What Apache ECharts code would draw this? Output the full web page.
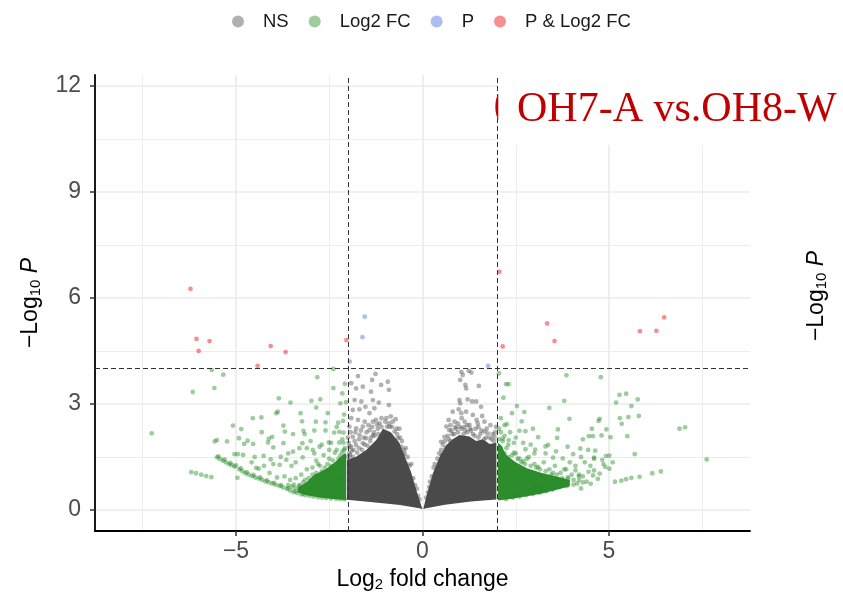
<!DOCTYPE html>
<html><head><meta charset="utf-8">
<script src="https://cdn.jsdelivr.net/npm/echarts@6/dist/echarts.min.js"></script>
<style>html,body{margin:0;padding:0;background:#fff}#c{width:843px;height:600px}</style>
</head><body><div id="c"></div>
<script>
// ---- axis / grid values ----
const xTicks = [-5, 0, 5];
const yTicks = [0, 3, 6, 9, 12];
const xMinorGrid = [-7.5, -2.5, 2.5, 7.5];
const yMinorGrid = [1.5, 4.5, 7.5, 10.5];
const fcCutoffs = [-2, 2];
const pCutoffs = [4];
const legendNames = ['NS', 'Log2 FC', 'P', 'P & Log2 FC'];
const plotTitle = 'OH7-A vs.OH8-W';

// ---- data: [log2FC, -log10 P] ----
const bothPoints = [[-6.22,6.26],[-6.06,4.84],[-5.71,4.78],[-6.00,4.50],[-4.07,4.64],[-3.67,4.47],[-4.42,4.08],[-2.04,4.81],
  [2.06,6.74],[2.15,4.63],[3.34,5.28],[3.54,4.78],[5.83,5.06],[6.27,5.07],[6.48,5.45]];
const pPoints = [[-1.55,5.47],[-1.61,4.89],[-1.95,4.20],[1.76,4.08]];
const fcPointsLeft = [[-5.65,3.96],[-5.34,3.83],[-2.82,3.76],[-2.39,3.99],[-2.08,3.57],[-2.39,3.45],[-5.58,3.45],
  [-7.26,2.17],[-6.16,3.34],[-2.20,3.02],[-2.74,3.13],[-2.98,3.09],[-3.54,3.04],[-3.85,3.16],[-3.92,2.74],[-3.88,2.78],
  [-3.27,2.74],[-2.85,2.90],[-2.54,2.74],[-2.26,2.47],[-2.60,2.48],[-2.86,2.50],[-3.23,2.51],[-3.73,2.39],[-4.32,2.62],
  [-4.55,2.60],[-5.08,2.39],[-4.86,2.29],[-5.51,1.98],[-5.57,1.94],[-5.24,1.94],[-4.92,2.03],[-4.69,1.96],[-4.31,2.20],
  [-4.12,2.02],[-4.03,2.07],[-3.69,2.22],[-3.47,2.15],[-3.19,2.24],[-3.16,2.15],[-2.90,2.25],[-2.60,2.25],[-2.37,2.19],
  [-2.23,2.21],[-2.12,2.19],[-2.13,2.52],[-4.78,1.87],[-4.54,1.87],[-4.14,1.91],[-4.00,1.77],[-3.73,1.89],[-3.47,1.65],
  [-3.22,1.89],[-2.94,1.70],[-2.76,1.79],[-2.51,1.91],[-2.23,1.91],[-5.04,1.58],[-4.95,1.58],[-4.81,1.56],[-4.58,1.35],
  [-4.46,1.19],[-4.39,1.17],[-4.26,1.53],[-4.07,1.43],[-3.83,1.28],[-3.65,1.42],[-3.51,1.25],[-3.21,1.49],[-2.85,1.40],
  [-4.96,0.91],[-6.20,1.07],[-6.07,1.04],[-5.93,1.00],[-5.80,0.96],[-5.66,0.93],
  [-5.51,1.49],[-5.35,1.40],[-5.19,1.30],[-5.04,1.23],[-4.91,1.15],[-4.75,1.04],[-4.57,0.96],[-4.39,0.89],[-4.21,0.81],
  [-4.03,0.75],[-3.83,0.68],[-3.64,0.60],[-3.46,0.51],[-3.25,0.44],[-3.03,0.40],[-2.80,0.36],[-2.58,0.34],[-2.31,0.32],[-2.09,0.30],
  [-5.43,1.44],[-5.27,1.35],[-5.11,1.27],[-4.83,1.10],[-4.66,1.00],[-4.48,0.92],[-4.30,0.85],[-4.12,0.78],[-3.93,0.71],
  [-3.74,0.64],[-3.55,0.55],[-3.36,0.48],[-3.14,0.42],[-2.92,0.38],[-2.69,0.35],[-2.45,0.33],[-2.20,0.31],
  [-5.47,1.52],[-5.31,1.43],[-5.15,1.33],[-5.00,1.26],[-4.87,1.18],[-4.71,1.07],[-4.53,0.99],[-4.35,0.92],[-4.17,0.84],
  [-3.98,0.77],[-3.79,0.70],[-3.60,0.62],[-3.41,0.53],[-3.20,0.46],
  [-2.10,1.70],[-2.20,1.55],[-2.35,1.62],[-2.50,1.45],[-2.65,1.55],[-2.80,1.30],[-2.95,1.20],[-3.10,1.15],[-3.25,1.00],
  [-3.40,0.90],[-3.55,0.85],[-3.70,0.95],[-3.90,0.92],[-4.10,1.05],[-2.20,0.90],[-2.60,0.75],[-3.00,0.60],[-3.30,0.68],
  [-2.45,1.90],[-2.15,2.00],[-2.30,2.35],[-2.70,1.85],[-3.00,1.95],[-3.30,1.75],[-3.60,1.60],[-3.80,1.50],[-4.00,1.30],
  [-4.25,1.25],[-4.50,1.50],[-2.10,2.70],[-2.05,3.05],[-2.15,3.30],
  [-2.08,1.75],[-2.12,1.90],[-2.15,1.65],[-2.25,1.45],[-2.30,1.70],[-2.40,1.40],[-2.45,1.25],[-2.55,1.30],[-2.62,1.20],
  [-2.70,1.10],[-2.75,1.25],[-2.85,1.05],[-2.95,1.00],[-3.05,0.90],[-3.15,0.85],[-3.20,0.78],[-3.30,0.70],[-3.40,0.62],
  [-3.45,0.72],[-3.50,0.66],[-3.60,0.70],[-2.50,1.70],[-2.90,1.60],[-3.40,1.35],[-3.10,1.75]];
const fcPointsRight = [[2.05,3.87],[2.24,3.56],[2.31,3.56],[3.86,3.81],[4.78,3.76],[2.17,3.18],[3.80,3.09],[5.28,3.26],
  [5.46,3.29],[5.77,3.13],[5.19,3.04],[5.60,2.94],[2.53,2.94],[2.73,2.77],[3.40,2.89],[2.40,2.74],[3.94,2.58],[2.66,2.51],
  [4.75,2.58],[4.72,2.52],[5.29,2.60],[5.52,2.63],[5.80,2.66],[5.34,2.44],[2.26,2.43],[2.96,2.30],[3.63,2.28],[2.60,2.24],
  [2.76,2.23],[4.54,2.30],[4.93,2.28],[6.89,2.30],[7.04,2.34],[3.10,2.06],[3.61,2.04],[4.30,2.00],[4.46,2.09],[4.57,2.09],
  [4.80,2.11],[5.04,2.06],[5.49,2.09],[2.15,2.02],[2.31,1.98],[3.37,1.84],[3.89,1.79],[4.23,1.74],[2.76,1.72],[3.02,1.71],
  [3.30,1.60],[3.58,1.66],[3.76,1.46],[4.04,1.58],[4.44,1.70],[4.63,1.68],[4.82,1.42],[4.92,1.53],[5.01,1.54],[5.69,1.58],
  [7.62,1.43],[5.01,1.17],[5.16,0.80],[5.33,0.83],[5.46,0.87],[5.60,0.91],[5.82,0.94],[6.16,1.04],[6.39,1.09],[4.25,0.61],
  [4.51,0.74],[4.75,1.03],[4.57,0.98],[4.19,0.96],[4.05,0.72],[3.87,0.68],[3.67,0.65],[3.49,0.58],[3.32,0.53],[3.14,0.49],
  [2.96,0.45],[2.78,0.42],[2.60,0.38],[2.42,0.35],[2.24,0.31],
  [3.00,0.70],[3.30,0.78],[3.60,0.86],[3.90,0.93],[4.20,1.00],[4.45,1.08],[3.20,0.95],[3.50,1.05],[3.80,1.15],[4.10,1.25],
  [4.35,1.35],[4.60,1.45],[4.90,1.22],[5.10,1.35],
  [2.10,1.75],[2.20,1.60],[2.30,1.50],[2.45,1.62],[2.60,1.45],[2.70,1.38],[2.85,1.50],[3.00,1.30],[3.10,1.22],[3.25,1.35],
  [3.40,1.15],[3.55,1.25],[3.70,1.05],[3.85,1.15],[4.00,1.00],[4.10,1.12],[4.20,0.85],[4.30,0.95],[4.40,0.80],[4.50,1.25],
  [4.60,1.12],[4.70,0.88],[4.85,1.30],[3.20,0.60],[3.45,0.72],[2.90,0.55],[2.60,0.48],[2.35,0.45],[3.00,1.60],[3.30,1.80],
  [2.45,1.90],[2.20,2.10],[2.05,2.30],[2.10,2.60],[2.35,2.20],[2.90,1.85],[3.50,1.48],[3.95,1.35],[4.25,1.50],[4.60,1.48],
  [2.05,2.00],[2.10,2.20],[2.15,1.95],[2.25,1.75],[2.30,1.85],[2.40,1.55],[2.50,1.60],[2.55,1.45],[2.65,1.35],[2.75,1.30],
  [2.80,1.45],[2.90,1.25],[3.05,1.20],[3.15,1.15],[3.30,1.10],[3.45,1.00],[3.60,1.00],[3.75,0.90],[3.90,0.88],[4.05,0.85],
  [4.15,0.75],[4.30,0.78],[2.20,2.40],[2.50,2.05],[2.70,1.90]];
const nsPointsLeft = [[-1.73,3.79],[-1.26,3.85],[-1.35,3.68],[-1.11,3.54],[-0.93,3.63],[-0.90,3.40],[-1.91,3.59],[-1.78,3.44],
  [-1.60,3.49],[-1.38,3.35],[-1.82,3.11],[-1.64,3.07],[-1.33,3.11],[-1.17,3.04],[-0.90,2.97],[-1.87,2.83],[-1.69,2.85],
  [-1.53,2.92],[-1.42,2.74],[-1.29,2.88],[-1.91,2.60],[-1.73,2.55],[-1.55,2.50],[-1.33,2.50],[-1.15,2.45],[-0.72,2.57],
  [-1.96,2.36],[-1.78,2.31],[-1.60,2.36],[-1.42,2.26],[-1.87,2.07],[-1.69,2.12],[-1.51,2.03],[-1.33,2.12],[-0.88,2.36],
  [-0.75,2.22],[-0.66,2.03],[-1.96,1.79],[-1.78,1.84],[-1.60,1.89],[-0.57,1.79],[-0.48,1.60],[-1.96,1.60],[-1.87,1.51],
  [-1.95,1.55],[-1.85,1.70],[-1.70,1.75],[-1.55,1.85],[-1.40,1.95],[-1.30,2.20],[-1.20,2.30],[-1.00,2.50],[-0.90,2.45],
  [-0.70,2.30],[-0.60,2.05],[-0.50,1.70],[-0.40,1.50],[-0.35,1.25],[-0.25,0.90],[-0.15,0.60],[-1.10,2.60],[-1.25,2.55],[-0.85,2.65],
  [-2.00,1.50],[-1.98,1.90],[-1.93,2.20],[-1.90,1.68],[-1.82,1.95],[-1.80,2.20],[-1.75,1.62],[-1.70,2.00],[-1.65,2.25],
  [-1.62,1.70],[-1.58,2.05],[-1.50,2.20],[-1.47,1.82],[-1.45,2.40],[-1.38,2.05],[-1.35,2.35],[-1.28,2.10],[-1.22,2.42],
  [-1.18,2.15],[-1.10,2.35],[-1.02,2.20],[-0.97,2.60],[-0.95,2.35],[-0.82,2.35],[-0.80,2.50],[-0.68,2.15],[-0.62,2.30],
  [-0.55,1.95],[-0.52,1.55],[-0.45,1.75],[-0.42,1.30],[-0.38,1.10],[-0.30,1.30],[-0.28,0.75],[-0.20,0.70],[-0.12,0.40],
  [-0.08,0.30],[-2.00,2.05],[-1.92,1.80]];
const nsPointsRight = [[1.04,3.91],[1.08,3.82],[1.24,3.94],[1.31,3.89],[1.01,3.68],[1.15,3.54],[1.17,3.44],[1.51,3.51],
  [0.99,3.11],[1.01,3.02],[1.21,3.13],[1.33,3.07],[1.44,3.07],[1.57,2.92],[0.97,2.85],[1.04,2.74],[1.17,2.78],[1.35,2.69],
  [1.60,2.66],[0.81,2.78],[0.86,2.50],[0.95,2.45],[1.13,2.50],[1.26,2.41],[1.48,2.45],[1.66,2.50],[0.64,2.36],[0.72,2.26],
  [1.66,2.22],[1.75,2.17],[0.59,2.07],[0.50,1.93],[1.93,2.07],
  [0.30,1.20],[0.40,1.45],[0.50,1.70],[0.55,1.85],[0.70,2.00],[0.80,2.15],[0.90,2.30],[1.05,2.30],[1.15,2.25],[1.30,2.25],
  [1.40,2.10],[1.55,2.15],[1.70,2.05],[1.85,2.00],[1.95,2.20],[1.20,2.40],[0.75,2.40],[1.50,2.35],[0.20,0.80],[0.15,0.50],
  [0.10,0.35],[0.18,0.65],[0.25,0.95],[0.33,1.30],[0.38,1.15],[0.45,1.60],[0.52,1.55],[0.60,1.95],[0.62,1.75],[0.68,2.10],
  [0.75,1.95],[0.78,2.25],[0.85,2.15],[0.88,2.35],[0.95,2.20],[1.00,2.35],[1.10,2.15],[1.12,2.35],[1.20,2.20],[1.28,2.30],
  [1.35,2.15],[1.42,2.30],[1.50,2.05],[1.58,2.25],[1.65,2.00],[1.72,2.30],[1.80,2.05],[1.88,2.15],[1.92,1.95],[1.97,2.35],
  [1.45,2.55],[1.05,2.60],[0.70,2.55],[1.82,2.40]];
// outlines of the fully saturated (overplotted) cores of the point clouds
const nsCoreLeft = [[-2.03,0.29],[-2.03,1.42],[-1.78,1.51],[-1.51,1.70],[-1.24,1.98],[-1.06,2.30],[-0.85,2.20],[-0.62,1.90],
  [-0.44,1.42],[-0.30,1.05],[-0.17,0.57],[-0.04,0.15],[0,0.02],[-0.05,0.04],[-0.6,0.14],[-1.33,0.22]];
const nsCoreRight = [[0.02,0.03],[0.12,0.45],[0.28,1.04],[0.46,1.51],[0.64,1.84],[0.81,2.00],[0.99,2.12],[1.26,2.08],
  [1.44,1.95],[1.62,2.00],[1.80,1.87],[1.98,1.90],[1.98,0.30],[1.30,0.24],[0.60,0.15],[0.10,0.05]];
const fcCoreLeft = [[-2.05,0.28],[-2.4,0.31],[-2.8,0.36],[-3.1,0.42],[-3.35,0.50],[-3.35,0.62],[-3.1,0.80],[-2.9,1.0],
  [-2.6,1.15],[-2.35,1.35],[-2.1,1.6],[-2.05,1.6]];
const fcCoreRight = [[2.02,0.27],[2.4,0.32],[2.8,0.39],[3.2,0.47],[3.6,0.57],[3.95,0.67],[3.95,0.85],[3.6,0.95],[3.2,1.05],
  [2.8,1.18],[2.5,1.35],[2.25,1.55],[2.1,1.85],[2.02,1.9]];

// ---- build chart ----
const FONT = '"Liberation Sans", Arial, Helvetica, sans-serif';
const COL = { ns: 'rgba(77,77,77,0.55)', fc: 'rgba(34,139,34,0.55)', p: 'rgba(65,105,225,0.55)', both: 'rgba(238,0,0,0.55)' };
const XMIN = -8.78, XMAX = 8.78, YMIN = -0.594, YMAX = 12.31;
const minus = v => (v < 0 ? '\u2212' + (-v) : String(v));
const richTitle = {
  n: { fontSize: 23, color: '#000', fontFamily: FONT },
  sub: { fontSize: 15, color: '#000', fontFamily: FONT, padding: [9, 0, 0, 0] },
  it: { fontSize: 23, color: '#000', fontFamily: FONT, fontStyle: 'italic' }
};
const gridLine = (key, v, major) => ({ [key]: v, lineStyle: { color: '#ebebeb', width: major ? 1.7 : 0.9, type: 'solid' } });
const gridMarks = [].concat(
  xTicks.map(v => gridLine('xAxis', v, true)), xMinorGrid.map(v => gridLine('xAxis', v, false)),
  yTicks.map(v => gridLine('yAxis', v, true)), yMinorGrid.map(v => gridLine('yAxis', v, false)));
const cutMarks = [].concat(fcCutoffs.map(v => ({ xAxis: v })), pCutoffs.map(v => ({ yAxis: v })));
const cores = [
  { pts: nsCoreLeft, fill: '#4a4a4a' }, { pts: nsCoreRight, fill: '#4a4a4a' },
  { pts: fcCoreLeft, fill: '#2d8d2d' }, { pts: fcCoreRight, fill: '#2d8d2d' }];

const chart = echarts.init(document.getElementById('c'), null, { renderer: 'canvas' });
chart.setOption({
  animation: false,
  backgroundColor: '#fff',
  grid: { left: 95, right: 93, top: 75, bottom: 69, containLabel: false, outerBoundsMode: 'none' },
  legend: {
    data: legendNames, top: 7, left: 227, icon: 'circle', itemWidth: 12, itemHeight: 12, itemGap: 20,
    textStyle: { fontSize: 18.5, color: '#1a1a1a', fontFamily: FONT, padding: [0, 0, 0, 14] }, selectedMode: false
  },
  xAxis: {
    type: 'value', min: XMIN, max: XMAX,
    axisLine: { show: true, onZero: false, lineStyle: { color: '#000', width: 1.8 } },
    axisTick: { show: true, customValues: xTicks, length: 5, lineStyle: { color: '#333', width: 1.5 } },
    axisLabel: { customValues: xTicks, formatter: minus, fontSize: 23, color: '#4d4d4d', margin: 9, fontFamily: FONT },
    splitLine: { show: false }, minorSplitLine: { show: false },
    name: '{n|Log}{sub|2}{n| fold change}', nameLocation: 'middle', nameGap: 37,
    nameTextStyle: { rich: richTitle }
  },
  yAxis: {
    type: 'value', min: YMIN, max: YMAX,
    axisLine: { show: true, onZero: false, lineStyle: { color: '#000', width: 1.8 } },
    axisTick: { show: true, customValues: yTicks, length: 5, lineStyle: { color: '#333', width: 1.5 } },
    axisLabel: { customValues: yTicks, formatter: minus, fontSize: 23, color: '#4d4d4d', margin: 14, fontFamily: FONT },
    splitLine: { show: false },
    name: '{n|\u2212Log}{sub|10}{n| }{it|P}', nameLocation: 'middle', nameRotate: 90, nameGap: 52,
    nameTextStyle: { rich: richTitle }
  },
  graphic: [
    { type: 'text', z: 99, x: 817, y: 296, rotation: Math.PI / 2,
      style: { text: '{n|\u2212Log}{sub|10}{n| }{it|P}', rich: richTitle, align: 'center', verticalAlign: 'middle' } },
    { type: 'text', z: 99, x: 493.5, y: 106,
      style: { text: '(', fill: '#c00000', font: '42px "Liberation Serif", "Times New Roman", serif', verticalAlign: 'middle' } },
    { type: 'rect', z: 100, shape: { x: 498.3, y: 40, width: 345, height: 105 }, style: { fill: '#fff' } },
    { type: 'text', z: 101, x: 517, y: 109.5,
      style: { text: plotTitle, fill: '#c00000', font: '42px "Liberation Serif", "Times New Roman", serif', verticalAlign: 'middle' } }
  ],
  series: [
    {
      name: 'cores', type: 'custom', coordinateSystem: 'cartesian2d', z: 1, silent: true,
      data: cores.map((c, i) => [i, 0]),
      renderItem: function (params, api) {
        const c = cores[params.dataIndex];
        return { type: 'polygon', shape: { points: c.pts.map(p => api.coord(p)) }, style: { fill: c.fill } };
      },
      markLine: { silent: true, symbol: 'none', z: 0, label: { show: false }, emphasis: { disabled: true }, data: gridMarks }
    },
    { name: 'NS', type: 'scatter', z: 2, symbolSize: 4.8, itemStyle: { color: COL.ns }, data: nsPointsLeft.concat(nsPointsRight), silent: true },
    { name: 'Log2 FC', type: 'scatter', z: 2, symbolSize: 4.8, itemStyle: { color: COL.fc }, data: fcPointsLeft.concat(fcPointsRight), silent: true },
    { name: 'P', type: 'scatter', z: 2, symbolSize: 4.8, itemStyle: { color: COL.p }, data: pPoints, silent: true },
    { name: 'P & Log2 FC', type: 'scatter', z: 2, symbolSize: 4.8, itemStyle: { color: COL.both }, data: bothPoints, silent: true,
      markLine: { silent: true, symbol: 'none', z: 10, label: { show: false }, emphasis: { disabled: true },
        lineStyle: { color: '#333', width: 1, type: [5, 3] }, data: cutMarks } }
  ]
});
</script></body></html>
